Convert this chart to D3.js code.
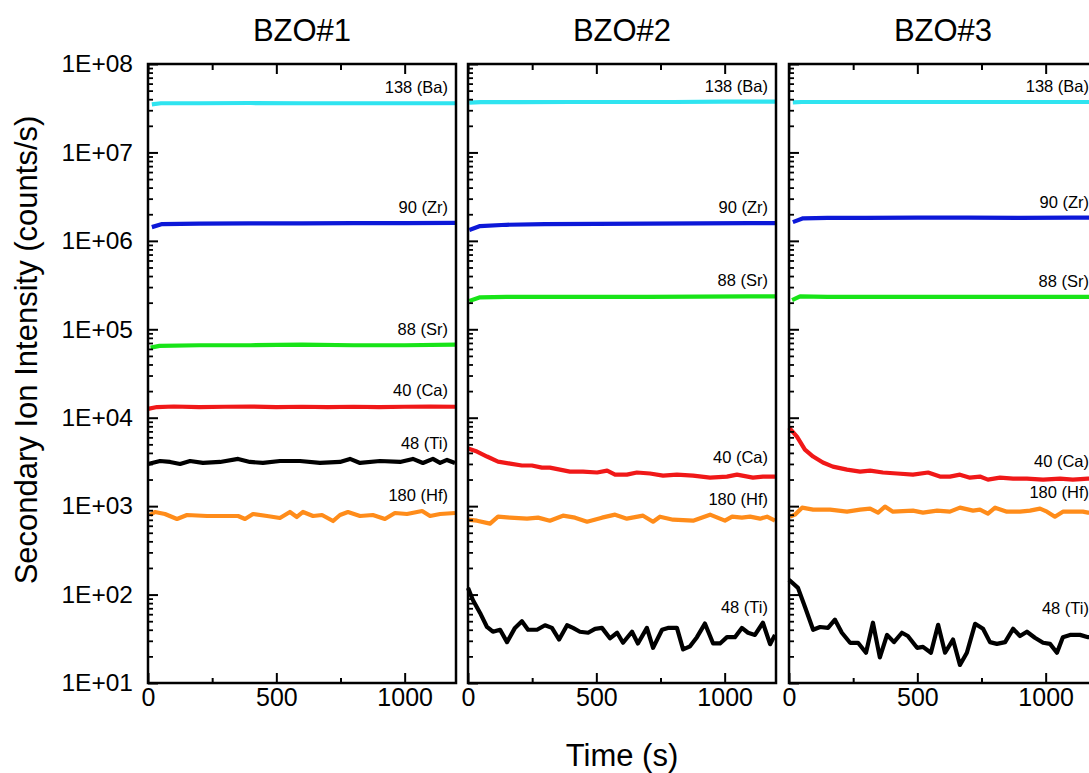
<!DOCTYPE html>
<html><head><meta charset="utf-8">
<script src="https://cdn.jsdelivr.net/npm/d3@7"></script>
<style>
html,body{margin:0;padding:0;background:#fff;}
svg text{font-family:"Liberation Sans",Arial,sans-serif;fill:#000;}
</style></head>
<body>
<svg id="chart" width="1089" height="773"></svg>
<script>
// ---------------- DATA ----------------
const panelTitles = ["BZO#1", "BZO#2", "BZO#3"];
const seriesNames = ["138 (Ba)", "90 (Zr)", "88 (Sr)", "40 (Ca)", "48 (Ti)", "180 (Hf)"];
const seriesColors = ["#2fe4f0", "#0c18d8", "#18e418", "#f01818", "#000000", "#ff8c1a"];
const yTickValues = [1e1, 1e2, 1e3, 1e4, 1e5, 1e6, 1e7, 1e8];
const yTickLabels = ["1E+01", "1E+02", "1E+03", "1E+04", "1E+05", "1E+06", "1E+07", "1E+08"];
const xTickValues = [0, 500, 1000];
const xMinorTicks = [250, 750];

// Panel 1 (BZO#1)
const p1BaT = [15, 50, 200, 400, 600, 800, 1000, 1200];
const p1BaV = [3.5e7, 3.6e7, 3.6e7, 3.62e7, 3.6e7, 3.6e7, 3.6e7, 3.6e7];
const p1ZrT = [15, 55, 200, 400, 600, 800, 1000, 1200];
const p1ZrV = [1.43e6, 1.55e6, 1.57e6, 1.58e6, 1.58e6, 1.59e6, 1.59e6, 1.6e6];
const p1SrT = [10, 45, 200, 400, 600, 800, 1000, 1200];
const p1SrV = [6.2e4, 6.5e4, 6.6e4, 6.6e4, 6.7e4, 6.6e4, 6.6e4, 6.7e4];
const p1CaT = [0, 35, 100, 200, 300, 400, 500, 600, 700, 800, 900, 1000, 1100, 1200];
const p1CaV = [1.26e4, 1.32e4, 1.34e4, 1.32e4, 1.33e4, 1.34e4, 1.32e4, 1.33e4, 1.32e4, 1.33e4, 1.32e4, 1.33e4, 1.34e4, 1.33e4];
const p1TiT = [0, 47, 86, 125, 164, 214, 281, 351, 397, 448, 514, 592, 670, 748, 787, 826, 904, 982, 1032, 1071, 1110, 1138, 1165, 1196];
const p1TiV = [3000, 3240, 3160, 3000, 3240, 3080, 3160, 3420, 3160, 3080, 3240, 3240, 3080, 3160, 3420, 3080, 3240, 3160, 3420, 3080, 3420, 3080, 3330, 3080];
const p1HfT = [8, 27, 66, 113, 152, 230, 308, 351, 378, 409, 464, 514, 553, 580, 604, 643, 678, 721, 748, 779, 826, 876, 923, 962, 1009, 1068, 1099, 1138, 1196];
const p1HfV = [794, 859, 815, 716, 794, 774, 774, 774, 716, 815, 774, 735, 859, 754, 859, 774, 794, 679, 794, 859, 774, 794, 716, 837, 815, 881, 774, 815, 837];

// Panel 2 (BZO#2)
const p2BaT = [5, 50, 200, 400, 600, 800, 1000, 1200];
const p2BaV = [3.65e7, 3.7e7, 3.7e7, 3.72e7, 3.72e7, 3.72e7, 3.75e7, 3.75e7];
const p2ZrT = [5, 47, 150, 300, 500, 700, 900, 1100, 1200];
const p2ZrV = [1.33e6, 1.47e6, 1.52e6, 1.55e6, 1.56e6, 1.57e6, 1.58e6, 1.59e6, 1.59e6];
const p2SrT = [5, 47, 150, 300, 500, 700, 900, 1100, 1200];
const p2SrV = [2.09e5, 2.3e5, 2.32e5, 2.33e5, 2.33e5, 2.33e5, 2.34e5, 2.35e5, 2.35e5];
const p2CaT = [0, 35, 74, 117, 164, 210, 249, 288, 319, 358, 397, 448, 503, 542, 573, 619, 658, 709, 760, 814, 877, 943, 1009, 1048, 1110, 1149, 1196];
const p2CaV = [4480, 4140, 3640, 3190, 3030, 2880, 2880, 2730, 2730, 2590, 2460, 2460, 2400, 2520, 2270, 2270, 2400, 2340, 2210, 2270, 2210, 2100, 2160, 2270, 2100, 2160, 2160];
const p2TiT = [0, 19, 47, 74, 97, 125, 152, 183, 210, 234, 269, 300, 327, 355, 386, 409, 436, 468, 495, 522, 553, 581, 604, 639, 662, 697, 721, 756, 779, 814, 838, 865, 892, 923, 955, 982, 1009, 1040, 1067, 1091, 1118, 1149, 1177, 1196];
const p2TiV = [119, 87, 62, 43, 38, 40, 29, 42, 50, 40, 40, 45, 42, 31, 45, 42, 38, 37, 41, 42, 32, 37, 28.5, 38, 28, 42, 25, 40, 42, 42, 24, 26, 33, 47, 28, 28, 33, 33, 42, 37, 35, 48, 27.5, 35];
const p2HfT = [0, 35, 86, 117, 164, 230, 273, 319, 370, 417, 464, 522, 573, 619, 682, 721, 748, 799, 877, 943, 1001, 1029, 1067, 1099, 1138, 1165, 1196];
const p2HfV = [703, 685, 634, 760, 741, 722, 741, 685, 780, 741, 667, 741, 801, 722, 780, 667, 760, 703, 685, 801, 685, 760, 741, 760, 722, 760, 685];

// Panel 3 (BZO#3)
const p3BaT = [15, 50, 200, 400, 600, 800, 1000, 1200];
const p3BaV = [3.68e7, 3.72e7, 3.72e7, 3.72e7, 3.72e7, 3.72e7, 3.72e7, 3.72e7];
const p3ZrT = [15, 55, 150, 300, 500, 700, 900, 1100, 1200];
const p3ZrV = [1.63e6, 1.8e6, 1.82e6, 1.82e6, 1.83e6, 1.83e6, 1.82e6, 1.83e6, 1.83e6];
const p3SrT = [12, 43, 150, 300, 500, 700, 900, 1100, 1200];
const p3SrV = [2.14e5, 2.36e5, 2.32e5, 2.32e5, 2.33e5, 2.33e5, 2.32e5, 2.33e5, 2.33e5];
const p3CaT = [0, 31, 62, 94, 132, 171, 226, 277, 316, 366, 421, 483, 542, 588, 627, 666, 705, 744, 775, 822, 873, 927, 990, 1056, 1106, 1165, 1200];
const p3CaV = [7740, 6120, 4360, 3640, 3110, 2800, 2590, 2460, 2520, 2400, 2340, 2270, 2400, 2160, 2160, 2270, 2100, 2160, 1995, 2100, 2050, 2050, 1995, 2050, 1995, 2050, 2050];
const p3TiT = [0, 35, 62, 94, 121, 152, 179, 206, 238, 269, 300, 327, 354, 382, 409, 440, 463, 499, 522, 553, 581, 608, 639, 666, 693, 725, 756, 783, 810, 842, 873, 900, 927, 958, 990, 1017, 1044, 1067, 1095, 1134, 1165, 1200];
const p3TiV = [147, 119, 73, 40, 43, 42, 52, 37, 28.5, 28.5, 22, 48, 19.5, 35, 29, 37, 34, 25, 25.6, 22, 45.5, 22, 31, 16, 22, 46.7, 41, 29, 27.7, 29, 41, 34, 38, 32.5, 28.5, 27.7, 22, 33, 35, 35, 33, 33];
const p3HfT = [4, 23, 51, 94, 160, 226, 277, 316, 347, 374, 405, 483, 522, 577, 627, 666, 717, 744, 775, 803, 849, 900, 939, 978, 1005, 1036, 1067, 1106, 1145, 1165, 1200];
const p3HfV = [760, 801, 961, 912, 912, 866, 912, 937, 844, 987, 866, 889, 844, 889, 866, 961, 889, 912, 822, 961, 866, 866, 889, 937, 866, 760, 866, 866, 866, 844, 860];

// ------------- BUILD -------------
const panels = [
  [[p1BaT, p1BaV], [p1ZrT, p1ZrV], [p1SrT, p1SrV], [p1CaT, p1CaV], [p1TiT, p1TiV], [p1HfT, p1HfV]],
  [[p2BaT, p2BaV], [p2ZrT, p2ZrV], [p2SrT, p2SrV], [p2CaT, p2CaV], [p2TiT, p2TiV], [p2HfT, p2HfV]],
  [[p3BaT, p3BaV], [p3ZrT, p3ZrV], [p3SrT, p3SrV], [p3CaT, p3CaV], [p3TiT, p3TiV], [p3HfT, p3HfV]]
];

const svg = d3.select("#chart");
const FONT = '"Liberation Sans", Arial, sans-serif';
const panelLeft = [148, 468, 789];
const panelW = 308, plotTop = 64, plotBottom = 683;

const x = d3.scaleLinear().domain([0, 1200]).range([0, panelW]);
const y = d3.scaleLog().domain([1e1, 1e8]).range([plotBottom, plotTop]);

const yMinor = [];
for (let e = 1; e < 8; e++) for (let m = 2; m <= 9; m++) yMinor.push(m * Math.pow(10, e));

const line = d3.line().x(d => x(d[0])).y(d => y(d[1]));

panels.forEach((series, pi) => {
  const g = svg.append("g").attr("transform", `translate(${panelLeft[pi]},0)`);

  // title
  svg.append("text").attr("x", panelLeft[pi] + panelW / 2).attr("y", 41)
    .attr("text-anchor", "middle").style("font-size", "31px").text(panelTitles[pi]);

  // lines
  series.forEach((s, si) => {
    const pts = s[0].map((t, i) => [t, s[1][i]]);
    g.append("path").datum(pts).attr("d", line)
      .attr("fill", "none").attr("stroke", seriesColors[si])
      .attr("stroke-width", 4.2).attr("stroke-linejoin", "round").attr("stroke-linecap", "butt");
    const late = pts.filter(p => p[0] > 700).map(p => p[1]);
    const anchor = d3.max(late);
    g.append("text").attr("x", panelW - 8).attr("y", y(anchor) - 10)
      .attr("text-anchor", "end").style("font-size", "16.5px").text(seriesNames[si]);
  });

  // y axis major
  const yAx = d3.axisLeft(y).tickValues(yTickValues).tickSizeInner(-10).tickSizeOuter(0).tickPadding(15)
    .tickFormat((d, i) => pi === 0 ? yTickLabels[i] : "");
  const ya = g.append("g").call(yAx);
  ya.select(".domain").remove();
  ya.selectAll("line").attr("stroke", "#000").attr("stroke-width", 2);
  ya.selectAll("text").style("font-size", "24.5px").style("font-family", FONT);
  // y minor
  const ym = g.append("g").call(d3.axisLeft(y).tickValues(yMinor).tickSizeInner(-5).tickSizeOuter(0).tickFormat(""));
  ym.select(".domain").remove();
  ym.selectAll("line").attr("stroke", "#000").attr("stroke-width", 1.8);

  // x bottom
  const xb = g.append("g").attr("transform", `translate(0,${plotBottom})`)
    .call(d3.axisBottom(x).tickValues(xTickValues).tickSizeInner(-10).tickSizeOuter(0).tickPadding(5).tickFormat(d3.format("d")));
  xb.select(".domain").remove();
  xb.selectAll("line").attr("stroke", "#000").attr("stroke-width", 2);
  xb.selectAll("text").style("font-size", "25px").style("font-family", FONT);
  const xbm = g.append("g").attr("transform", `translate(0,${plotBottom})`)
    .call(d3.axisBottom(x).tickValues(xMinorTicks).tickSizeInner(-5).tickSizeOuter(0).tickFormat(""));
  xbm.select(".domain").remove();
  xbm.selectAll("line").attr("stroke", "#000").attr("stroke-width", 2);

  // x top
  const xt = g.append("g").attr("transform", `translate(0,${plotTop})`)
    .call(d3.axisTop(x).tickValues(xTickValues).tickSizeInner(-10).tickSizeOuter(0).tickFormat(""));
  xt.select(".domain").remove();
  xt.selectAll("line").attr("stroke", "#000").attr("stroke-width", 2);
  const xtm = g.append("g").attr("transform", `translate(0,${plotTop})`)
    .call(d3.axisTop(x).tickValues(xMinorTicks).tickSizeInner(-6).tickSizeOuter(0).tickFormat(""));
  xtm.select(".domain").remove();
  xtm.selectAll("line").attr("stroke", "#000").attr("stroke-width", 2);

  // frame
  g.append("rect").attr("x", 0).attr("y", plotTop).attr("width", panelW).attr("height", plotBottom - plotTop)
    .attr("fill", "none").attr("stroke", "#000").attr("stroke-width", 2.5);
});

// axis titles
svg.append("text").attr("x", panelLeft[1] + panelW / 2).attr("y", 766)
  .attr("text-anchor", "middle").style("font-size", "31px").text("Time (s)");
svg.append("text").attr("transform", "translate(37,350) rotate(-90)")
  .attr("text-anchor", "middle").style("font-size", "31px").text("Secondary Ion Intensity (counts/s)");
</script>
</body></html>
